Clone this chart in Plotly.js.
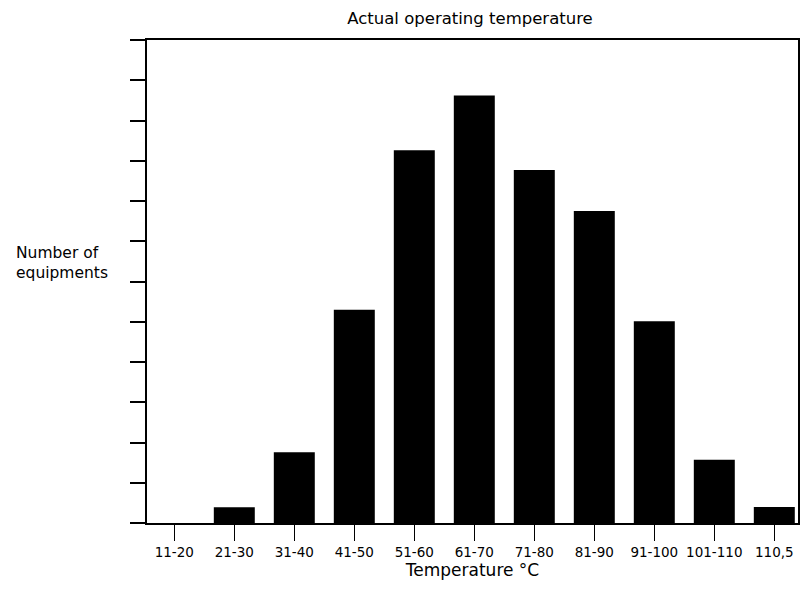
<!DOCTYPE html>
<html>
<head>
<meta charset="utf-8">
<script src="https://cdn.plot.ly/plotly-3.0.1.min.js"></script>
<style>body{margin:0;background:#fff;}#chart{width:809px;height:602px;}</style>
</head>
<body>
<div id="chart"></div>
<script>
var categories = ["11-20","21-30","31-40","41-50","51-60","61-70","71-80","81-90","91-100","101-110","110,5"];
var counts = [0, 0.39, 1.76, 5.30, 9.26, 10.62, 8.77, 7.75, 5.01, 1.57, 0.40];
var chartTitle = "Actual operating temperature";
var xTitle = "Temperature °C";
var yTitle = "Number of<br>equipments";

var font = "DejaVu Sans, Verdana, sans-serif";

Plotly.newPlot("chart", [{
  type: "bar",
  x: categories,
  y: counts,
  marker: {color: "#000000", line: {width: 0}},
  hoverinfo: "skip"
}], {
  width: 809, height: 602,
  margin: {l: 147, r: 11, t: 40, b: 79},
  paper_bgcolor: "#ffffff",
  plot_bgcolor: "#ffffff",
  bargap: 0.317,
  showlegend: false,
  title: {text: chartTitle, font: {family: font, size: 16.5, color: "#000"}, x: 0.581, xanchor: "center", y: 0.97, yanchor: "middle"},
  xaxis: {
    type: "category",
    range: [-0.455, 10.395],
    showline: true, linecolor: "#000", linewidth: 2, mirror: true,
    ticks: "outside", ticklen: 16, tickwidth: 1.5, tickcolor: "#000",
    showgrid: false, zeroline: false,
    tickfont: {family: font, size: 13.5, color: "#000"},
    title: {text: xTitle, font: {family: font, size: 17, color: "#000"}, standoff: 5}
  },
  yaxis: {
    range: [0, 12], dtick: 1,
    showline: true, linecolor: "#000", linewidth: 2, mirror: true,
    ticks: "outside", ticklen: 15, tickwidth: 2, tickcolor: "#000",
    showticklabels: false, showgrid: false, zeroline: false
  },
  annotations: [{
    text: yTitle, xref: "paper", yref: "paper",
    x: -0.205, y: 0.538, xanchor: "left", yanchor: "middle", align: "left",
    showarrow: false, font: {family: font, size: 15.5, color: "#000"}
  }]
}, {displayModeBar: false, staticPlot: true});
</script>
</body>
</html>
